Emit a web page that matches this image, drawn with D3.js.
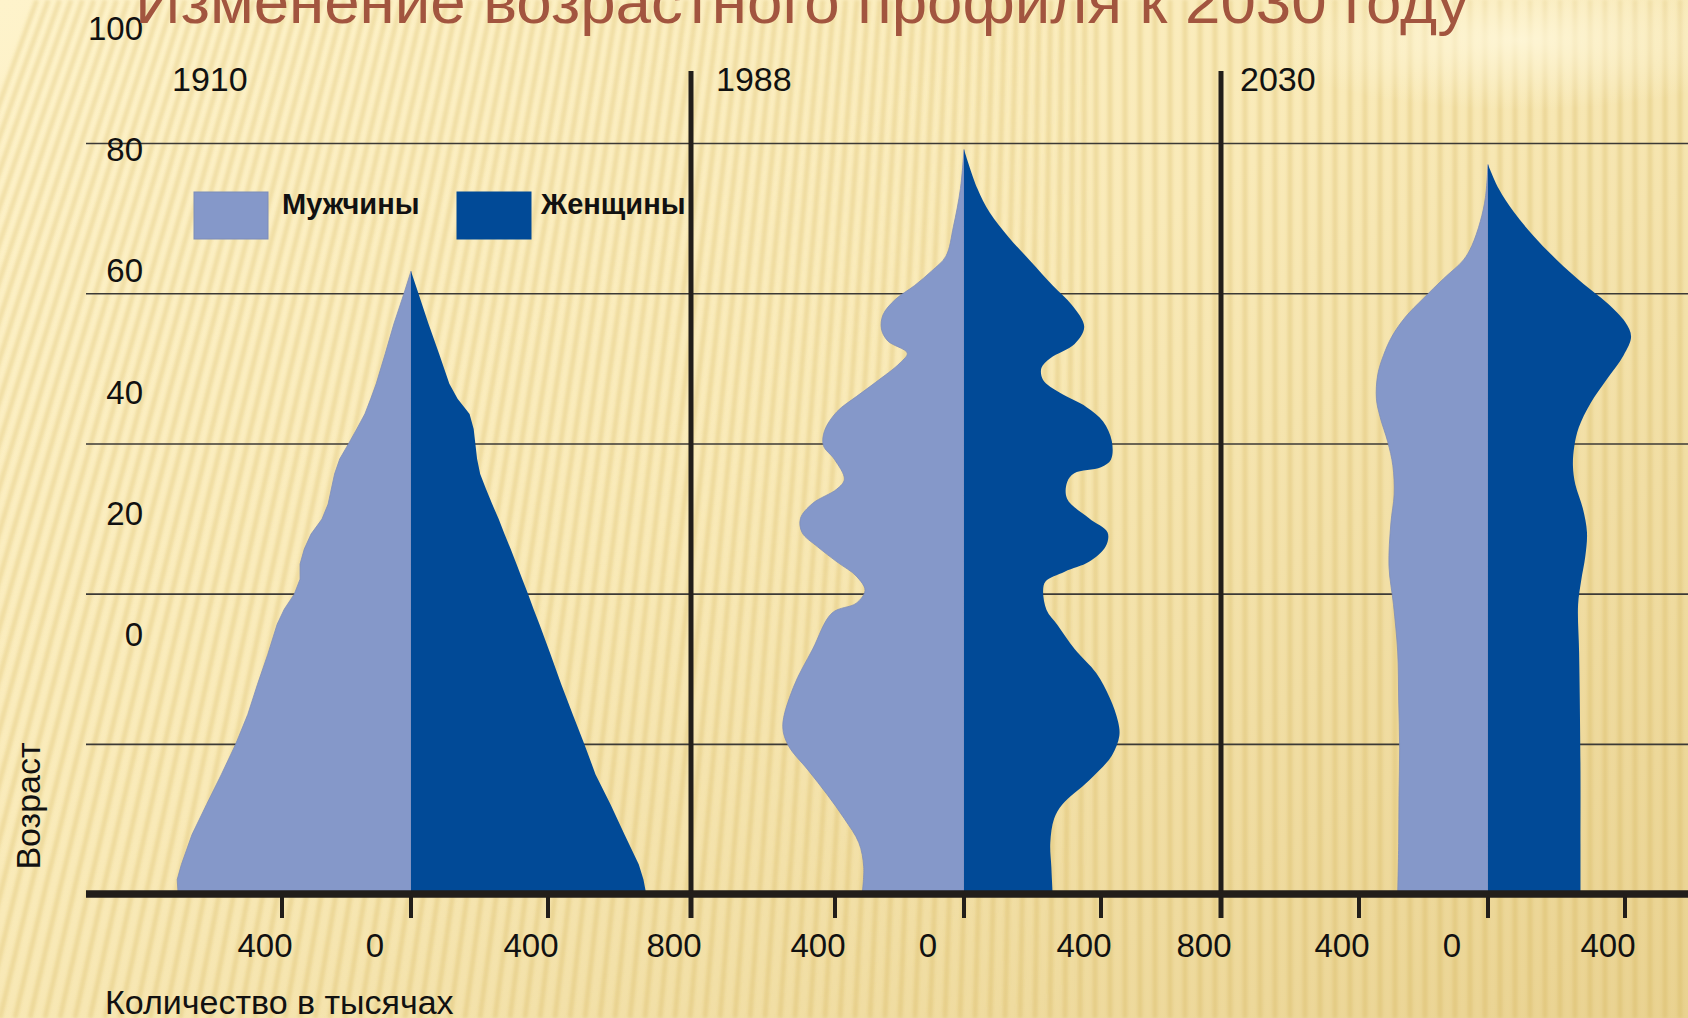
<!DOCTYPE html>
<html>
<head>
<meta charset="utf-8">
<script src="https://cdn.jsdelivr.net/npm/d3@7"></script>
<style>
  body { margin: 0; overflow: hidden; background: #f6e6b0; }
  svg { display: block; }
  text { font-family: "Liberation Sans", Arial, sans-serif; }
</style>
</head>
<body>
<svg id="chart" width="1688" height="1018"></svg>
<script>
// ---- data (age in grid units, counts in thousands) ----
const years = ["1910", "1988", "2030"];
const ageTicks = [0, 20, 40, 60, 80, 100];
const gridAges = [20, 40, 60, 80, 100];
const countTicks = [-400, 0, 400, 800];
const legendLabels = ["Мужчины", "Женщины"];

const ages1910 = [0, 2, 4, 8, 12, 16, 20, 24, 28, 32, 36, 38, 40, 42, 44, 46, 48, 50, 52, 54, 56, 58, 60, 62, 64, 66, 68, 72, 76, 80, 83];
const male1910 = [722, 725, 712, 679, 634, 588, 544, 506, 476, 444, 415, 393, 362, 344, 344, 331, 310, 276, 257, 247, 237, 221, 194, 168, 143, 125, 108, 80, 53, 22, 0];
const female1910 = [675, 667, 654, 614, 575, 533, 502, 469, 437, 407, 375, 358, 342, 325, 308, 291, 273, 256, 237, 219, 202, 193, 188, 183, 171, 136, 112, 82, 51, 22, 0];

const maleAges1988 = [0, 3.7, 6.9, 10.1, 13.3, 16.6, 19.8, 22.4, 27.6, 32.7, 37.5, 38.8, 40.5, 42.4, 44.3, 46.3, 48.2, 50.1, 52.1, 54.0, 55.3, 57.9, 59.8, 61.8, 64.3, 66.3, 68.2, 70.8, 72.1, 73.7, 75.3, 77.2, 79.2, 81.1, 83.0, 85.0, 88.9, 94.0, 99.2];
const male1988 = [316, 311, 326, 371, 424, 484, 544, 562, 529, 469, 409, 334, 307, 334, 394, 454, 502, 507, 469, 394, 371, 401, 436, 432, 394, 334, 274, 198, 176, 236, 256, 251, 214, 153, 101, 56, 33, 11, 0];
const femaleAges1988 = [0, 3.7, 6.9, 10.1, 12.0, 15.2, 18.5, 21.1, 23.0, 26.2, 29.5, 32.7, 35.9, 37.9, 40.5, 41.7, 43.0, 44.3, 46.3, 48.2, 50.1, 52.7, 54.9, 56.1, 56.9, 57.9, 60.4, 63.0, 64.9, 66.8, 68.5, 70.1, 71.4, 73.3, 75.6, 78.5, 81.1, 84.3, 87.5, 90.8, 94.0, 99.2];
const female1988 = [259, 255, 252, 263, 287, 365, 436, 461, 457, 429, 386, 323, 273, 241, 231, 238, 294, 365, 415, 422, 365, 301, 301, 322, 400, 433, 436, 407, 358, 280, 231, 226, 252, 323, 351, 315, 259, 195, 131, 75, 39, 0];

const maleAges2030 = [0, 6.8, 13.2, 19.5, 25.9, 32.3, 38.6, 43.7, 49.5, 53.3, 57.1, 60.3, 63.5, 66.0, 69.2, 71.8, 74.3, 76.9, 79.4, 82.0, 84.5, 86.4, 89.6, 92.8, 97.2];
const male2030 = [280, 277, 276, 274, 277, 280, 293, 307, 301, 291, 295, 311, 334, 346, 342, 324, 298, 256, 200, 138, 76, 50, 24, 8, 0];
const femaleAges2030 = [0, 6.8, 16.4, 25.9, 32.3, 38.6, 41.8, 45.0, 48.2, 51.4, 54.6, 57.1, 59.7, 62.2, 65.4, 68.6, 71.8, 74.3, 76.2, 78.8, 81.3, 84.5, 87.7, 90.9, 94.0, 97.2];
const female2030 = [270, 270, 270, 268, 266, 263, 272, 284, 289, 277, 255, 248, 252, 265, 299, 347, 396, 418, 401, 347, 279, 201, 133, 75, 31, 0];

// ---- layout ----
const W = 1688, H = 1018;
const AXIS_Y = 894, AXIS_X0 = 86;
const MALE = "#8598c9", FEMALE = "#014a97", INK = "#221e1a";
const centers = [411, 964, 1488];
const dividers = [691, 1221, 1760];
const yearX = [172, 716, 1240];

function pairs(ages, vals) {
    return d3.zip(ages, vals).map(function(p) { return {age: p[0], value: p[1]}; });
}

const smooth = d3.curveCatmullRom.alpha(0.5);
const panels = [
    {year: years[0], male: pairs(ages1910, male1910), female: pairs(ages1910, female1910), curve: d3.curveLinear},
    {year: years[1], male: pairs(maleAges1988, male1988), female: pairs(femaleAges1988, female1988), curve: smooth},
    {year: years[2], male: pairs(maleAges2030, male2030), female: pairs(femaleAges2030, female2030), curve: smooth},
];

const svg = d3.select("#chart");
const defs = svg.append("defs");

// background
var bg = defs.append("linearGradient").attr("id", "bg")
    .attr("x1", 0).attr("y1", 0).attr("x2", 1).attr("y2", 1);
bg.append("stop").attr("offset", 0).attr("stop-color", "#fef3cb");
bg.append("stop").attr("offset", 0.45).attr("stop-color", "#f9eab8");
bg.append("stop").attr("offset", 1).attr("stop-color", "#e9d290");
defs.append("filter").attr("id", "soft")
    .append("feGaussianBlur").attr("stdDeviation", 1.4);
var glow = defs.append("radialGradient").attr("id", "glow");
glow.append("stop").attr("offset", 0).attr("stop-color", "#fff8dc").attr("stop-opacity", 0.8);
glow.append("stop").attr("offset", 1).attr("stop-color", "#fff8dc").attr("stop-opacity", 0);

svg.append("rect").attr("width", W).attr("height", H).attr("fill", "url(#bg)");

var stripes = svg.append("g").attr("filter", "url(#soft)");
for (var sx = -300; sx < W + 20; sx += 15) {
    // stripes lean on the left, straighten towards the right
    var tilt = 0.26 * Math.max(0, 1 - sx / 1100);
    var topX = sx + tilt * H;
    stripes.append("path")
        .attr("d", "M" + topX + ",0 Q" + (sx + tilt * H * 0.45) + "," + (H * 0.5) + " " + sx + "," + H)
        .attr("fill", "none")
        .attr("stroke", "rgba(200,160,60,0.22)")
        .attr("stroke-width", 5);
}
svg.append("ellipse").attr("cx", 1520).attr("cy", 40).attr("rx", 260).attr("ry", 70)
    .attr("fill", "url(#glow)");

// scales
const yAge = d3.scaleLinear().domain([0, 100]).range([AXIS_Y + 0.6, 143.5]);
const yLabel = d3.scaleLinear().domain([0, 100]).range([646, 40]);

// grid lines
svg.append("g").selectAll("line").data(gridAges).join("line")
    .attr("x1", AXIS_X0).attr("x2", W)
    .attr("y1", function(d) { return yAge(d); })
    .attr("y2", function(d) { return yAge(d); })
    .attr("stroke", "#3c3a36").attr("stroke-width", 1.6);

// pyramids
panels.forEach(function(p, i) {
    var c = centers[i];
    var x = d3.scaleLinear().domain([-400, 0, 400, 800]).range([c - 129, c, c + 137, dividers[i]]);

    var maleArea = d3.area().curve(p.curve)
        .y(function(d) { return yAge(d.age); })
        .x0(x(0))
        .x1(function(d) { return x(-d.value); });
    var femaleArea = d3.area().curve(p.curve)
        .y(function(d) { return yAge(d.age); })
        .x0(x(0))
        .x1(function(d) { return x(d.value); });

    svg.append("path").datum(p.male).attr("d", maleArea)
        .attr("fill", MALE).attr("stroke", "#7d8db9").attr("stroke-width", 0.8);
    svg.append("path").datum(p.female).attr("d", femaleArea)
        .attr("fill", FEMALE);

    // bottom ticks and labels
    var ticks = countTicks.filter(function(v) { return v !== 800 && x(v) < W; });
    svg.append("g").selectAll("line").data(ticks).join("line")
        .attr("x1", function(v) { return x(v); }).attr("x2", function(v) { return x(v); })
        .attr("y1", AXIS_Y).attr("y2", AXIS_Y + 24)
        .attr("stroke", INK).attr("stroke-width", 4);
    svg.append("g").selectAll("text").data(countTicks.filter(function(v) { return x(v) < W; })).join("text")
        .attr("x", function(v) { return x(v) + (v === 0 ? -36 : -17); })
        .attr("y", 957)
        .attr("text-anchor", "middle")
        .attr("font-size", 33)
        .attr("fill", "#111")
        .text(function(v) { return Math.abs(v); });

    svg.append("text")
        .attr("x", yearX[i]).attr("y", 91)
        .attr("font-size", 34).attr("fill", "#111")
        .text(p.year);
});

// panel dividers
svg.append("g").selectAll("line").data(dividers.filter(function(d) { return d < W; })).join("line")
    .attr("x1", function(d) { return d; }).attr("x2", function(d) { return d; })
    .attr("y1", 71).attr("y2", AXIS_Y + 24)
    .attr("stroke", INK).attr("stroke-width", 5);

// baseline axis
svg.append("line")
    .attr("x1", AXIS_X0).attr("x2", W)
    .attr("y1", AXIS_Y).attr("y2", AXIS_Y)
    .attr("stroke", INK).attr("stroke-width", 7.5);

// age labels
svg.append("g").selectAll("text").data(ageTicks).join("text")
    .attr("x", 143)
    .attr("y", function(d) { return yLabel(d); })
    .attr("text-anchor", "end")
    .attr("font-size", 33).attr("fill", "#111")
    .text(function(d) { return d; });

// legend
var legendColors = [MALE, FEMALE];
var legendBoxX = [194, 457], legendTextX = [282, 541];
legendLabels.forEach(function(l, i) {
    svg.append("rect")
        .attr("x", legendBoxX[i]).attr("y", 192)
        .attr("width", 74).attr("height", 47)
        .attr("fill", legendColors[i])
        .attr("stroke", i === 0 ? "#7d8db9" : FEMALE).attr("stroke-width", 1);
    svg.append("text")
        .attr("x", legendTextX[i]).attr("y", 214)
        .attr("font-size", 29).attr("font-weight", "bold").attr("fill", "#111")
        .text(l);
});

// axis titles
svg.append("text")
    .attr("transform", "translate(40,806) rotate(-90)")
    .attr("text-anchor", "middle")
    .attr("font-size", 34).attr("fill", "#111")
    .text("Возраст");
svg.append("text")
    .attr("x", 105).attr("y", 1014)
    .attr("font-size", 34).attr("fill", "#111")
    .text("Количество в тысячах");

// title (top is cut off by the frame)
svg.append("text")
    .attr("x", 135).attr("y", 23)
    .attr("font-size", 62).attr("fill", "#a2553f")
    .attr("textLength", 1334).attr("lengthAdjust", "spacingAndGlyphs")
    .text("Изменение возрастного профиля к 2030 году");
</script>
</body>
</html>
